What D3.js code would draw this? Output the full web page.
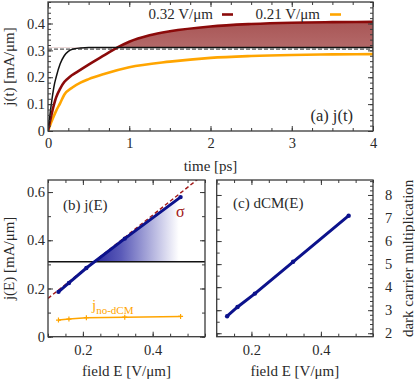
<!DOCTYPE html>
<html><head><meta charset="utf-8">
<script src="https://cdn.jsdelivr.net/npm/d3@7"></script>
<style>
body{margin:0;background:#fff;}
svg text{font-family:"Liberation Serif","Times New Roman",serif;fill:#2a2a2a;font-weight:normal;}
</style></head>
<body><svg id="c" width="415" height="379"></svg>
<script>
// ---------- data ----------
const tBlack = [0, 0.03, 0.05, 0.08, 0.1, 0.15, 0.2, 0.25, 0.3, 0.4, 0.5, 0.7, 1, 2, 3, 4];
const jBlack = [0, 0.075, 0.12, 0.175, 0.2, 0.25, 0.28, 0.296, 0.304, 0.309, 0.311, 0.311, 0.311, 0.311, 0.311, 0.311];
const tRed = [0, 0.05, 0.1, 0.15, 0.2, 0.27, 0.35, 0.5, 0.7, 0.85, 1, 1.25, 1.5, 2, 2.5, 3, 3.5, 4];
const jRed = [0, 0.07, 0.125, 0.158, 0.182, 0.202, 0.218, 0.247, 0.283, 0.31, 0.332, 0.356, 0.371, 0.389, 0.398, 0.403, 0.405, 0.406];
const tOrange = [0, 0.05, 0.1, 0.15, 0.2, 0.3, 0.4, 0.5, 0.7, 1, 1.5, 2, 2.5, 3, 3.5, 4];
const jOrange = [0, 0.04, 0.075, 0.104, 0.135, 0.162, 0.18, 0.193, 0.213, 0.237, 0.258, 0.272, 0.279, 0.283, 0.285, 0.286];
const jSat = 0.311;        // saturation level (black plateau)
const jDashed = 0.305;     // dashed reference
const legendLabels = ["0.32 V/\u03bcm", "0.21 V/\u03bcm"];

const fieldE = [0.13, 0.16, 0.21, 0.32, 0.48];
const jE = [0.186, 0.223, 0.285, 0.407, 0.579];
const jNoDCM = [0.069, 0.073, 0.079, 0.081, 0.084];
const dcm = [2.74, 3.14, 3.72, 5.1, 7.1];
const sigmaE = [0.1, 0.55];
const sigmaJ = [0.159, 0.677];

const ticksA_x = [0, 1, 2, 3, 4];
const ticksA_y = [0, 0.1, 0.2, 0.3, 0.4];
const ticksB_x = [0.2, 0.4];
const ticksB_y = [0, 0.2, 0.4, 0.6];
const ticksC_y = [2, 3, 4, 5, 6, 7, 8];

// ---------- setup ----------
const svg = d3.select("#c");
const defs = svg.append("defs");
const frameCol = "#3a3a3a";
const red = "#8b0a0a", orange = "#ffa500", blue = "#0c128c";
const fmt = d => d === 0 ? "0" : d3.format(".1f")(d);

function ticks(g, axisFn, scale, major, minor, showLabels, pad, format) {
  g.append("g").call(axisFn(scale).tickValues(minor).tickSize(-3).tickFormat(""));
  const a = g.append("g").call(axisFn(scale).tickValues(major).tickSizeInner(-5).tickSizeOuter(0)
      .tickPadding(pad).tickFormat(showLabels ? format : ""));
  g.selectAll(".domain").remove();
  g.selectAll("line").attr("stroke", frameCol);
  a.selectAll("text").attr("font-size", 14.5).attr("font-family", "Liberation Serif");
}

function frame(x0, y0, w, h) {
  svg.append("rect").attr("x", x0).attr("y", y0).attr("width", w).attr("height", h)
    .attr("fill", "none").attr("stroke", frameCol).attr("stroke-width", 1.3);
}

// ---------- panel (a) ----------
{
  const L = 48, R = 373, T = 2, B = 131;
  const x = d3.scaleLinear().domain([0, 4]).range([L, R]);
  const y = d3.scaleLinear().domain([0, 0.48]).range([B, T]);
  const gA = svg.append("g");
  defs.append("clipPath").attr("id", "clipA").append("rect").attr("x", L).attr("y", T).attr("width", R - L).attr("height", B - T);
  defs.append("clipPath").attr("id", "clipAbove").append("rect").attr("x", L).attr("y", T).attr("width", R - L).attr("height", y(jSat) - T);
  const gr = defs.append("linearGradient").attr("id", "gradRed").attr("x1", 0).attr("y1", 0).attr("x2", 0).attr("y2", 1);
  gr.append("stop").attr("offset", "0").attr("stop-color", "#a85656");
  gr.append("stop").attr("offset", "1").attr("stop-color", "#dca6a6");

  const redPts = tRed.map((t, i) => [t, jRed[i]]);
  gA.append("path").datum(redPts).attr("clip-path", "url(#clipAbove)")
    .attr("d", d3.area().x(d => x(d[0])).y0(y(jSat)).y1(d => y(d[1])).curve(d3.curveMonotoneX))
    .attr("fill", "url(#gradRed)");

  gA.append("line").attr("x1", x(0)).attr("x2", x(4)).attr("y1", y(jDashed)).attr("y2", y(jDashed))
    .attr("stroke", "#555").attr("stroke-width", 1.2).attr("stroke-dasharray", "4,2");

  const line = d3.line().x(d => x(d[0])).y(d => y(d[1])).curve(d3.curveMonotoneX);
  const gl = gA.append("g").attr("clip-path", "url(#clipA)");
  gl.append("path").datum(tOrange.map((t, i) => [t, jOrange[i]])).attr("d", line)
    .attr("fill", "none").attr("stroke", orange).attr("stroke-width", 2.6);
  gl.append("path").datum(redPts).attr("d", line)
    .attr("fill", "none").attr("stroke", red).attr("stroke-width", 2.6);
  gl.append("path").datum(tBlack.map((t, i) => [t, jBlack[i]])).attr("d", line)
    .attr("fill", "none").attr("stroke", "#111").attr("stroke-width", 1.5);

  // axes
  ticks(gA.append("g").attr("transform", `translate(0,${B})`), d3.axisBottom, x, ticksA_x, d3.range(0, 4.001, 0.25), true, 7, d => d3.format("d")(d));
  ticks(gA.append("g").attr("transform", `translate(0,${T})`), d3.axisTop, x, ticksA_x, d3.range(0, 4.001, 0.25), false, 3, fmt);
  ticks(gA.append("g").attr("transform", `translate(${L},0)`), d3.axisLeft, y, ticksA_y, d3.range(0, 0.481, 0.02), true, 3, fmt);
  ticks(gA.append("g").attr("transform", `translate(${R},0)`), d3.axisRight, y, ticksA_y, d3.range(0, 0.481, 0.02), false, 3, fmt);
  frame(L, T, R - L, B - T);

  // legend
  const lg = gA.append("g");
  lg.append("text").attr("x", 213).attr("y", 19).attr("text-anchor", "end").attr("font-size", 15).text(legendLabels[0]);
  lg.append("line").attr("x1", 222).attr("x2", 233).attr("y1", 14.5).attr("y2", 14.5).attr("stroke", red).attr("stroke-width", 2.6);
  lg.append("text").attr("x", 320).attr("y", 19).attr("text-anchor", "end").attr("font-size", 15).text(legendLabels[1]);
  lg.append("line").attr("x1", 330).attr("x2", 341).attr("y1", 14.5).attr("y2", 14.5).attr("stroke", orange).attr("stroke-width", 2.6);

  gA.append("text").attr("x", 353).attr("y", 121).attr("text-anchor", "end").attr("font-size", 16.5).text("(a) j(t)");
  gA.append("text").attr("x", (L + R) / 2).attr("y", 171).attr("text-anchor", "middle").attr("font-size", 15).text("time [ps]");
  gA.append("text").attr("transform", `translate(14,${(T + B) / 2}) rotate(-90)`).attr("text-anchor", "middle").attr("font-size", 15).text("j(t) [mA/\u03bcm]");
}

// ---------- panel (b) ----------
{
  const L = 48, R = 205, T = 180, B = 336.7;
  const x = d3.scaleLinear().domain([0.1, 0.55]).range([L, R]);
  const y = d3.scaleLinear().domain([0, 0.65]).range([B, T]);
  const gB = svg.append("g");
  defs.append("clipPath").attr("id", "clipB").append("rect").attr("x", L).attr("y", T).attr("width", R - L).attr("height", B - T);
  defs.append("clipPath").attr("id", "clipBAbove").append("rect").attr("x", L).attr("y", T).attr("width", R - L).attr("height", y(jSat) - T);
  const gb = defs.append("linearGradient").attr("id", "gradBlue").attr("gradientUnits", "userSpaceOnUse")
    .attr("x1", x(0.22)).attr("y1", 0).attr("x2", x(0.475)).attr("y2", 0);
  gb.append("stop").attr("offset", "0").attr("stop-color", "#23239a");
  gb.append("stop").attr("offset", "0.35").attr("stop-color", "#5a5ab8");
  gb.append("stop").attr("offset", "1").attr("stop-color", "#ffffff");

  const pts = fieldE.map((e, i) => [e, jE[i]]);
  gB.append("path").datum(pts.map(d => [Math.min(d[0], 0.475), d[1]])).attr("clip-path", "url(#clipBAbove)")
    .attr("d", d3.area().x(d => x(d[0])).y0(y(jSat)).y1(d => y(d[1])))
    .attr("fill", "url(#gradBlue)");

  gB.append("line").attr("x1", L).attr("x2", R).attr("y1", y(jSat)).attr("y2", y(jSat))
    .attr("stroke", "#111").attr("stroke-width", 1.3);

  const gl = gB.append("g").attr("clip-path", "url(#clipB)");
  gl.append("path").datum(sigmaE.map((e, i) => [e, sigmaJ[i]]))
    .attr("d", d3.line().x(d => x(d[0])).y(d => y(d[1])))
    .attr("stroke", "#a01818").attr("stroke-width", 1.4).attr("stroke-dasharray", "4,2.5").attr("fill", "none");

  const line = d3.line().x(d => x(d[0])).y(d => y(d[1]));
  gl.append("path").datum(pts).attr("d", line).attr("fill", "none").attr("stroke", blue).attr("stroke-width", 3);
  gl.selectAll("circle.b").data(pts).join("circle").attr("cx", d => x(d[0])).attr("cy", d => y(d[1])).attr("r", 2.2).attr("fill", blue);

  const npts = fieldE.map((e, i) => [e, jNoDCM[i]]);
  gl.append("path").datum(npts).attr("d", line).attr("fill", "none").attr("stroke", orange).attr("stroke-width", 1.5);
  gl.selectAll("path.plus").data(npts).join("path").attr("class", "plus")
    .attr("d", d => `M${x(d[0]) - 2.5},${y(d[1])}h5M${x(d[0])},${y(d[1]) - 2.5}v5`)
    .attr("stroke", orange).attr("stroke-width", 1.2);

  ticks(gB.append("g").attr("transform", `translate(0,${B})`), d3.axisBottom, x, ticksB_x, d3.range(0.1, 0.551, 0.05), true, 8, fmt);
  ticks(gB.append("g").attr("transform", `translate(0,${T})`), d3.axisTop, x, ticksB_x, d3.range(0.1, 0.551, 0.05), false, 3, fmt);
  ticks(gB.append("g").attr("transform", `translate(${L},0)`), d3.axisLeft, y, ticksB_y, d3.range(0, 0.651, 0.1), true, 3, fmt);
  ticks(gB.append("g").attr("transform", `translate(${R},0)`), d3.axisRight, y, ticksB_y, d3.range(0, 0.651, 0.1), false, 3, fmt);
  frame(L, T, R - L, B - T);

  gB.append("text").attr("x", 63).attr("y", 210).attr("font-size", 15).text("(b) j(E)");
  gB.append("text").attr("x", 176).attr("y", 217).attr("font-size", 16).style("fill", "#a01818").text("\u03c3");
  const tj = gB.append("text").attr("x", 92).attr("y", 310).attr("font-size", 15).style("fill", orange);
  tj.append("tspan").text("j");
  tj.append("tspan").attr("dy", 4).attr("font-size", 11).text("no-dCM");
  gB.append("text").attr("x", (L + R) / 2).attr("y", 376).attr("text-anchor", "middle").attr("font-size", 15).text("field E [V/\u03bcm]");
  gB.append("text").attr("transform", `translate(14,${(T + B) / 2}) rotate(-90)`).attr("text-anchor", "middle").attr("font-size", 15).text("j(E) [mA/\u03bcm]");
}

// ---------- panel (c) ----------
{
  const L = 216.7, R = 373, T = 180, B = 336.7;
  const x = d3.scaleLinear().domain([0.1, 0.55]).range([L, R]);
  const y = d3.scaleLinear().domain([1.85, 8.65]).range([B, T]);
  const gC = svg.append("g");
  const pts = fieldE.map((e, i) => [e, dcm[i]]);
  gC.append("path").datum(pts).attr("d", d3.line().x(d => x(d[0])).y(d => y(d[1])))
    .attr("fill", "none").attr("stroke", blue).attr("stroke-width", 3);
  gC.selectAll("circle").data(pts).join("circle").attr("cx", d => x(d[0])).attr("cy", d => y(d[1])).attr("r", 2.2).attr("fill", blue);

  ticks(gC.append("g").attr("transform", `translate(0,${B})`), d3.axisBottom, x, ticksB_x, d3.range(0.1, 0.551, 0.05), true, 8, fmt);
  ticks(gC.append("g").attr("transform", `translate(0,${T})`), d3.axisTop, x, ticksB_x, d3.range(0.1, 0.551, 0.05), false, 3, fmt);
  ticks(gC.append("g").attr("transform", `translate(${L},0)`), d3.axisLeft, y, ticksC_y, d3.range(2, 8.51, 0.5), false, 3, fmt);
  ticks(gC.append("g").attr("transform", `translate(${R},0)`), d3.axisRight, y, ticksC_y, d3.range(2, 8.61, 0.2), true, 12, d => d3.format("d")(d));
  frame(L, T, R - L, B - T);

  gC.append("text").attr("x", 233).attr("y", 208).attr("font-size", 15).text("(c) dCM(E)");
  gC.append("text").attr("x", (L + R) / 2).attr("y", 376).attr("text-anchor", "middle").attr("font-size", 15).text("field E [V/\u03bcm]");
  gC.append("text").attr("transform", `translate(408,${(T + B) / 2}) rotate(-90)`).attr("text-anchor", "middle").attr("dy", "0.35em").attr("font-size", 15).text("dark carrier multiplication");
}
</script></body></html>
